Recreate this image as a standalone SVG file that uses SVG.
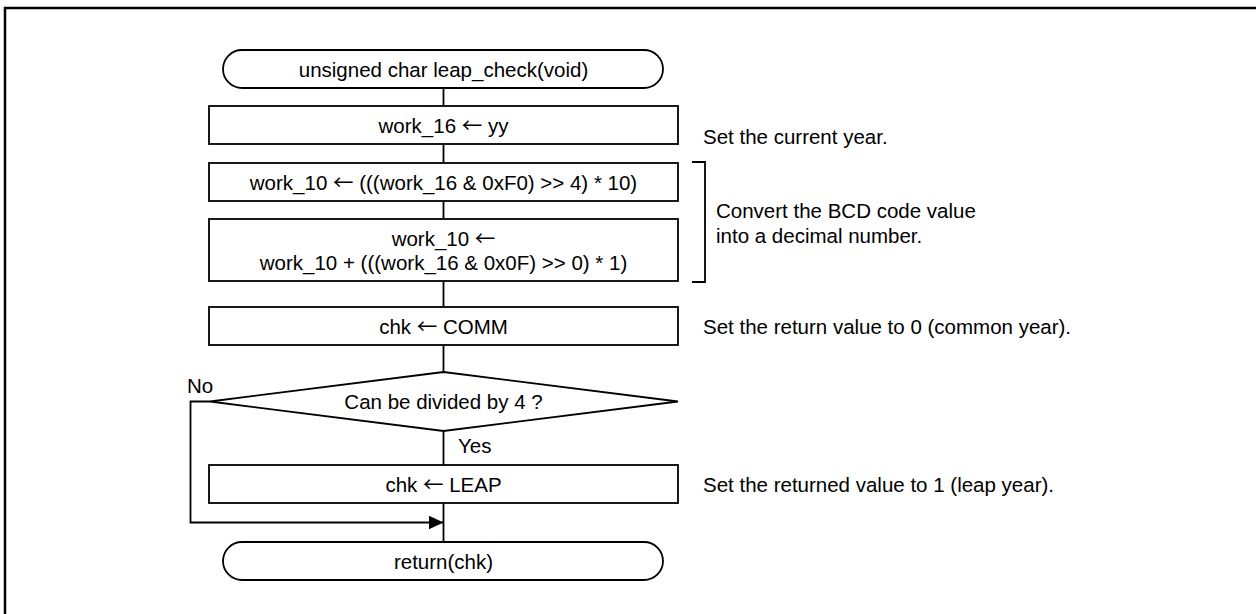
<svg xmlns="http://www.w3.org/2000/svg" width="1256" height="614" viewBox="0 0 1256 614">
<style>
.b{fill:#fff;stroke:#000;stroke-width:1.8}
.t{font-family:"Liberation Sans",Arial,sans-serif;font-size:20.5px;fill:#000}
.a{font-family:"Noto Sans CJK JP","Noto Sans CJK SC",sans-serif}
.c{text-anchor:middle}
.l{fill:none;stroke:#000;stroke-width:1.8}
</style>
<defs>
<marker id="ah" markerUnits="userSpaceOnUse" markerWidth="16" markerHeight="14" refX="15" refY="7" orient="auto">
<path d="M0,0 L15,7 L0,14 Z" fill="#000"/>
</marker>
</defs>
<rect width="1256" height="614" fill="#fff"/>
<rect x="5" y="8" width="1270" height="630" fill="none" stroke="#000" stroke-width="2.5"/>
<g id="connectors">
<path class="l" d="M443.5,88V106M443.5,144V163M443.5,201V219M443.5,281V307M443.5,345V372M443.5,431V465M443.5,503V542"/>
<path class="l" d="M210,401.5H190.5V522.5H443.5" marker-end="url(#ah)"/>
<path class="l" d="M692,162H705V282H692"/>
</g>
<g id="start"><rect class="b" x="223" y="50" width="440" height="38" rx="19"/><text class="t c" x="443.5" y="76.5">unsigned char leap_check(void)</text></g>
<g id="box1"><rect class="b" x="209" y="106" width="469" height="38"/><text class="t c" x="443.5" y="132.5">work_16 <tspan class="a">←</tspan> yy</text></g>
<g id="box2"><rect class="b" x="209" y="163" width="469" height="38"/><text class="t c" x="443.5" y="189.5">work_10 <tspan class="a">←</tspan> (((work_16 &amp; 0xF0) &gt;&gt; 4) * 10)</text></g>
<g id="box3"><rect class="b" x="209" y="219" width="469" height="62"/><text class="t c" x="443.5" y="245.5">work_10 <tspan class="a">←</tspan></text><text class="t c" x="443.5" y="269.5">work_10 + (((work_16 &amp; 0x0F) &gt;&gt; 0) * 1)</text></g>
<g id="box4"><rect class="b" x="209" y="307" width="469" height="38"/><text class="t c" x="443.5" y="333.5">chk <tspan class="a">←</tspan> COMM</text></g>
<g id="decision"><polygon class="b" points="443.5,372 678,401.5 443.5,431 210,401.5"/><text class="t c" x="443.5" y="409">Can be divided by 4 ?</text><text class="t" x="187" y="393">No</text><text class="t" x="458" y="453">Yes</text></g>
<g id="box5"><rect class="b" x="209" y="465" width="469" height="38"/><text class="t c" x="443.5" y="491.5">chk <tspan class="a">←</tspan> LEAP</text></g>
<g id="end"><rect class="b" x="223" y="542" width="440" height="38" rx="19"/><text class="t c" x="443.5" y="568.5">return(chk)</text></g>
<g id="comments">
<text class="t" x="703" y="144">Set the current year.</text>
<text class="t" x="716" y="217.5">Convert the BCD code value</text>
<text class="t" x="716" y="242.5">into a decimal number.</text>
<text class="t" x="703" y="333.5">Set the return value to 0 (common year).</text>
<text class="t" x="703" y="491.5">Set the returned value to 1 (leap year).</text>
</g>
</svg>
